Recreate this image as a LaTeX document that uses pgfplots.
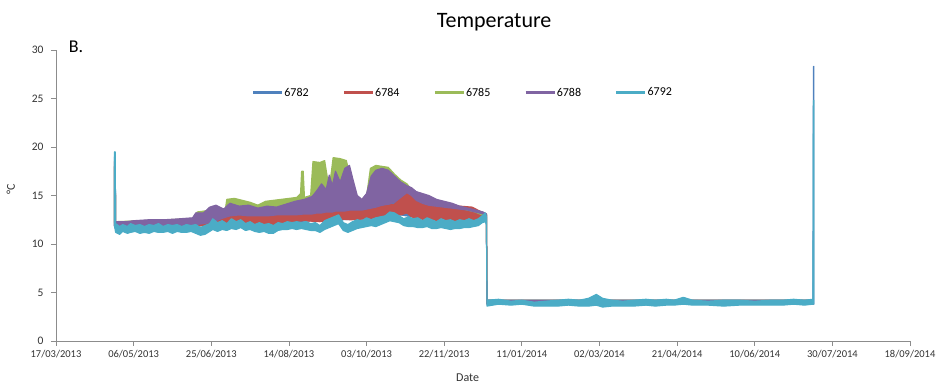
\documentclass[border=0pt]{standalone}
\usepackage{pgfplots}
\pgfplotsset{compat=1.18}
\usepackage{pgfplotstable}
\usepgfplotslibrary{fillbetween}
\usepackage{fontspec}
\setmainfont{Carlito}
\definecolor{cA}{HTML}{4F81BD}
\definecolor{cB}{HTML}{C0504D}
\definecolor{cC}{HTML}{9BBB59}
\definecolor{cD}{HTML}{8064A2}
\definecolor{cE}{HTML}{4BACC6}

\pgfplotstableread{
d hi lo
37.7 19.0 11.9
38.1 19.0 11.7
38.4 12.2 11.6
88 12.5 11.8
100 12.9 12.0
150 13.2 12.3
200 13.6 12.6
222 15.5 13.0
230 14.5 12.8
260 13.8 12.5
277.2 13.0 12.4
277.6 4.2 3.8
487.5 4.2 3.8
487.8 28.3 3.8
488.1 28.3 3.8
}\tA

\pgfplotstableread{
d hi lo
37.7 18.5 11.9
38.1 18.5 11.7
38.4 12.2 11.6
88 12.5 11.8
100 13.0 12.0
110 13.3 12.1
120 13.4 12.2
130 13.3 12.1
140 13.4 12.0
150 13.4 12.3
160 13.5 12.4
170 13.5 12.3
180 13.7 12.6
190 13.6 12.5
200 13.7 12.6
210 13.9 12.8
218 14.1 13.0
222 14.8 13.0
226 15.4 13.2
229 15.3 12.8
233 14.5 12.6
240 14.2 12.5
250 14.0 12.4
260 13.9 12.4
268 13.8 12.5
274 13.3 12.6
277.2 13.0 12.5
277.6 4.1 3.8
487.5 4.1 3.8
}\tB

\pgfplotstableread{
d hi lo
37.7 18.0 12.2
38.1 18.0 12.2
38.4 12.3 12.2
88 12.6 12.4
91 13.3 12.5
100 13.5 12.6
105 13.4 12.9
109 13.5 13.1
110 14.6 13.3
115 14.7 13.6
120 14.5 13.6
125 14.3 13.6
130 14.0 13.6
135 14.4 13.6
140 14.5 13.6
145 14.6 13.6
150 14.7 13.7
155 14.8 13.7
157.5 15.2 13.8
158.2 17.5 13.8
159.2 17.5 13.8
160 14.8 13.8
164 15.0 13.8
165.5 18.5 13.9
170 18.4 13.9
173 18.6 14.0
175 16.6 14.0
177 17.0 14.0
178.5 18.9 14.1
183 18.8 14.1
187 18.6 14.1
190 16.5 14.2
193 14.8 14.2
197 14.5 14.2
200 14.9 14.3
202.5 17.8 14.4
206 18.1 14.5
210 18.0 14.6
214 17.9 14.7
218 17.2 14.8
222 16.6 15.2
226 16.2 15.6
230 15.4 15.0
240 14.6 14.3
250 14.2 14.1
260 13.8 13.7
270 13.4 13.3
277.2 13.1 12.8
277.6 4.2 3.9
487.5 4.2 3.9
}\tC

\pgfplotstableread{
d hi lo
37.7 18.0 11.9
38.1 18.0 11.8
38.4 12.3 11.8
45 12.3 11.6
50 12.4 11.7
60 12.5 11.8
70 12.5 11.8
80 12.6 11.9
88 12.7 12.0
90 13.2 12.0
95 13.2 12.1
99 13.8 12.2
103 14.0 12.4
108 13.6 12.7
112 14.2 12.9
118 13.9 13.0
124 14.0 12.9
130 13.7 12.9
136 13.9 12.9
142 13.8 13.0
148 14.1 13.0
154 14.4 13.0
160 14.6 13.1
165 14.9 13.1
168 15.5 13.2
171 16.2 13.2
174 15.6 13.3
176 17.1 13.3
178 16.0 13.3
180 17.5 13.4
183 16.4 13.4
186 17.8 13.4
189 18.1 13.5
191 16.8 13.5
194 15.0 13.5
197 14.6 13.5
200 15.2 13.6
203 17.0 13.7
206 17.6 13.8
210 17.8 14.0
214 17.6 14.1
218 17.0 14.3
222 16.4 14.8
226 16.0 15.3
229 15.8 15.0
232 15.4 14.5
236 15.2 14.2
240 15.0 14.0
245 14.6 13.9
250 14.4 13.8
255 14.2 13.7
260 13.9 13.6
265 13.7 13.5
270 13.5 13.3
275 13.3 13.1
277.2 13.1 12.6
277.6 4.2 3.8
487.5 4.2 3.8
}\tD

\pgfplotstableread{
d hi lo
37.7 19.5 11.8
38.1 19.5 11.5
38.4 12.1 11.2
41 11.8 11.0
43 12.0 11.3
46 11.8 11.1
48 12.1 11.2
51 11.9 11.3
54 12.0 11.1
57 11.8 11.2
60 12.0 11.1
63 11.9 11.3
66 12.1 11.2
69 11.8 11.2
72 12.0 11.3
75 11.9 11.1
78 12.0 11.3
81 11.8 11.2
84 12.0 11.2
87 11.9 11.3
90 12.0 11.1
93 11.7 10.9
96 11.9 11.0
99 12.1 11.3
101 12.6 11.5
104 12.2 11.3
107 12.4 11.5
110 12.1 11.4
113 12.6 11.6
116 12.3 11.5
119 12.5 11.7
122 12.1 11.4
125 12.3 11.5
128 12.0 11.3
131 12.2 11.2
134 12.0 11.3
137 12.1 11.1
140 11.9 11.1
143 12.2 11.4
146 12.1 11.5
149 12.3 11.5
152 12.2 11.6
155 12.3 11.5
158 12.2 11.6
161 12.3 11.5
164 12.1 11.4
167 12.2 11.4
170 11.9 11.2
173 12.4 11.5
176 12.6 11.7
179 12.8 11.9
182 13.0 12.1
185 12.2 11.4
188 12.0 11.2
191 12.3 11.4
194 12.5 11.6
197 12.4 11.7
200 12.7 11.8
203 12.5 11.9
206 12.7 11.8
209 12.8 12.0
212 12.9 12.2
215 13.3 12.4
218 13.2 12.3
221 12.9 12.2
224 12.6 11.9
227 12.8 11.8
230 12.6 11.8
233 12.7 11.7
236 12.4 11.7
239 12.7 11.8
242 12.5 11.6
245 12.3 11.6
248 12.6 11.7
251 12.4 11.6
254 12.5 11.5
257 12.3 11.6
260 12.5 11.6
263 12.4 11.7
266 12.6 11.7
269 12.4 11.8
272 12.6 11.9
274.5 12.9 12.2
276.5 13.2 12.3
277.2 12.8 12.0
277.6 4.2 3.6
285 4.3 3.8
293 4.1 3.7
300 4.2 3.8
308 4.0 3.6
315 4.1 3.6
323 4.2 3.6
330 4.3 3.7
337 4.2 3.6
343 4.4 3.6
348 4.8 3.7
352 4.4 3.5
358 4.2 3.6
365 4.1 3.6
372 4.2 3.6
380 4.3 3.7
386 4.2 3.6
393 4.3 3.7
398 4.2 3.7
404 4.5 3.8
410 4.2 3.7
420 4.1 3.7
430 4.2 3.6
440 4.2 3.7
450 4.1 3.7
460 4.2 3.7
468 4.2 3.7
475 4.3 3.8
482 4.2 3.7
487.5 4.3 3.8
487.8 24.8 3.8
488.1 24.8 3.8
}\tE

\newcommand{\band}[3]{%
  \addplot[draw=none, forget plot, name path=#3h] table[x=d,y=hi]{#1};
  \addplot[draw=none, forget plot, name path=#3l] table[x=d,y=lo]{#1};
  \addplot[fill=#2, draw=#2, line width=1.2pt, line join=round, forget plot] fill between[of=#3h and #3l];
}

\begin{document}
\begin{tikzpicture}
\begin{axis}[
  at={(0,0)}, anchor=south west,
  scale only axis, width=854pt, height=291pt,
  xmin=0, xmax=550, ymin=0, ymax=30,
  clip mode=individual,
  xtick={0,50,...,550},
  xticklabels={17/03/2013,06/05/2013,25/06/2013,14/08/2013,03/10/2013,22/11/2013,11/01/2014,02/03/2014,21/04/2014,10/06/2014,30/07/2014,18/09/2014},
  ytick={0,5,...,30},
  axis x line*=bottom, axis y line*=left,
  axis line style={color=black!45, line width=0.8pt},
  tick align=outside, major tick length=5pt,
  tick style={black!45, line width=0.8pt},
  ticklabel style={font=\fontsize{10.5}{12}\selectfont, color=black!80},
  xticklabel style={yshift=-1pt},
  yticklabel style={xshift=-4pt, font=\fontsize{11.5}{12}\selectfont},
  /pgf/number format/assume math mode=true,
  xlabel={Date},
  xlabel style={at={(axis description cs:0.482,-0.127)}, anchor=center, font=\fontsize{12}{14}\selectfont, color=black!80},
  ylabel={°C},
  ylabel style={at={(axis description cs:-0.053,0.52)}, anchor=center, font=\fontsize{12}{14}\selectfont, color=black!80},
  title={Temperature},
  title style={at={(axis description cs:0.513,1.075)}, anchor=center, font=\fontsize{22}{26}\selectfont},
  legend columns=5,
  legend style={draw=none, fill=none, at={(axis cs:126,25.6)}, anchor=west, inner sep=0pt,
    font=\fontsize{12}{14}\selectfont,
    nodes={inner sep=1pt},
    /tikz/every even column/.append style={column sep=33pt}},
  legend image code/.code={\draw[#1, line width=2.5pt] (0pt,0pt) -- (29pt,0pt);},
]
\band{\tA}{cA}{a}
\band{\tB}{cB}{b}
\band{\tC}{cC}{c}
\band{\tD}{cD}{d}
\band{\tE}{cE}{e}
\addlegendimage{cA}\addlegendentry{6782}
\addlegendimage{cB}\addlegendentry{6784}
\addlegendimage{cC}\addlegendentry{6785}
\addlegendimage{cD}\addlegendentry{6788}
\addlegendimage{cE}\addlegendentry{6792}
\node[anchor=base west, font=\fontsize{18}{20}\selectfont] at (axis description cs:0.011,0.99) {B.};
\end{axis}
\pgfresetboundingbox
\useasboundingbox (-56pt,-49pt) rectangle (883pt,341pt);
\end{tikzpicture}
\end{document}
